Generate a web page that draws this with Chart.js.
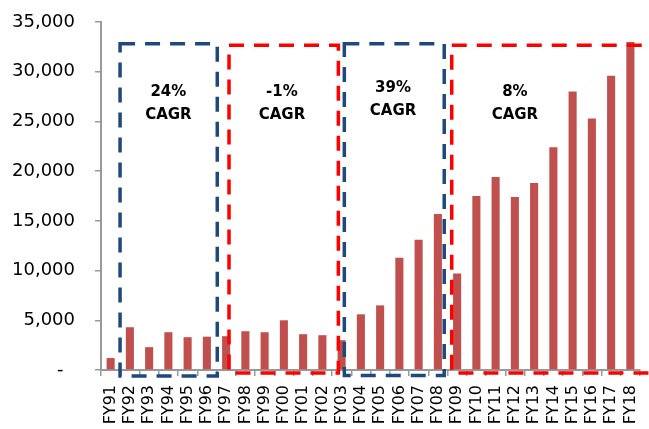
<!DOCTYPE html>
<html>
<head>
<meta charset="utf-8">
<script src="https://cdn.jsdelivr.net/npm/chart.js@4.4.1/dist/chart.umd.min.js"></script>
<style>
  html, body { margin: 0; padding: 0; background: #fff; }
  #wrap { width: 649px; height: 429px; }
</style>
</head>
<body>
<div id="wrap"><canvas id="myChart" width="649" height="429"></canvas></div>
<script>
// Datos del gráfico
const anios = ['FY91','FY92','FY93','FY94','FY95','FY96','FY97','FY98','FY99','FY00',
               'FY01','FY02','FY03','FY04','FY05','FY06','FY07','FY08','FY09','FY10',
               'FY11','FY12','FY13','FY14','FY15','FY16','FY17','FY18'];
const valores = [1200, 4300, 2300, 3800, 3300, 3350, 3400, 3900, 3800, 5000,
                 3600, 3500, 3000, 5600, 6500, 11300, 13100, 15700, 9700, 17500,
                 19400, 17400, 18800, 22400, 28000, 25300, 29600, 33000];
const yMax = 35000;
const yPaso = 5000;

// Recuadros punteados de CAGR (en unidades de categoría y de valor)
const cajaInicio = [0.49, 6.15, 12.14, 17.72];
const cajaFin = [5.54, 11.83, 17.33, 28.6];
const cajaArriba = [32800, 32670, 32800, 32670];
const cajaAbajo = [-600, -300, -550, -300];
const cajaColor = ['#1F497D', '#FF0000', '#1F497D', '#FF0000'];
const cagrTexto = ['24%', '-1%', '39%', '8%'];
const cagrX = [3, 8.9, 14.67, 21.0];
const cagrY = [27950, 27950, 28350, 27950];

const pluginCajas = {
    id: 'cajasCagr',
    afterDatasetsDraw(chart) {
        const { ctx, scales: { x, y } } = chart;
        const px = i => x.getPixelForValue(0) + i * (x.getPixelForValue(1) - x.getPixelForValue(0));
        ctx.save();
        cajaInicio.forEach((ini, k) => {
            ctx.strokeStyle = cajaColor[k];
            ctx.lineWidth = 3.5;
            ctx.setLineDash([15, 10]);
            const x0 = px(ini), x1 = px(cajaFin[k]);
            const y0 = y.getPixelForValue(cajaArriba[k]), y1 = y.getPixelForValue(cajaAbajo[k]);
            ctx.strokeRect(x0, y0, x1 - x0, y1 - y0);
        });
        ctx.setLineDash([]);
        ctx.fillStyle = '#000';
        ctx.font = 'bold 15px "DejaVu Sans"';
        ctx.textAlign = 'center';
        ctx.textBaseline = 'middle';
        cagrTexto.forEach((t, k) => {
            const cx = px(cagrX[k]);
            const cy = y.getPixelForValue(cagrY[k]);
            ctx.fillText(t, cx, cy);
            ctx.fillText('CAGR', cx, cy + 23);
        });
        ctx.restore();
    }
};

new Chart(document.getElementById('myChart').getContext('2d'), {
    type: 'bar',
    data: {
        labels: anios,
        datasets: [{
            data: valores,
            backgroundColor: '#C0504D',
            barPercentage: 0.42,
            categoryPercentage: 1.0
        }]
    },
    options: {
        responsive: false,
        animation: false,
        layout: { padding: { top: 22, right: 9, left: 0, bottom: 0 } },
        plugins: { legend: { display: false }, tooltip: { enabled: false } },
        scales: {
            x: {
                afterFit: s => { s.height = 59; s.paddingLeft = 0; s.paddingRight = 0; },
                grid: { display: true, drawOnChartArea: false, color: '#999', lineWidth: 1.5, tickLength: 6 },
                border: { color: '#999', width: 2 },
                ticks: {
                    color: '#000', autoSkip: false, maxRotation: 90, minRotation: 90, padding: 9,
                    font: { family: 'DejaVu Sans', size: 16 }
                }
            },
            y: {
                min: 0, max: yMax,
                afterFit: s => { s.width = 101; s.paddingTop = 0; s.paddingBottom = 0; },
                grid: { display: true, drawOnChartArea: false, color: '#999', lineWidth: 1.5, tickLength: 6 },
                border: { color: '#999', width: 2 },
                ticks: {
                    stepSize: yPaso, color: '#000', padding: 20,
                    font: { family: 'DejaVu Sans', size: 18 },
                    callback: v => v === 0 ? '-  ' : v.toLocaleString('en-US')
                }
            }
        }
    },
    plugins: [pluginCajas]
});
</script>
</body>
</html>
